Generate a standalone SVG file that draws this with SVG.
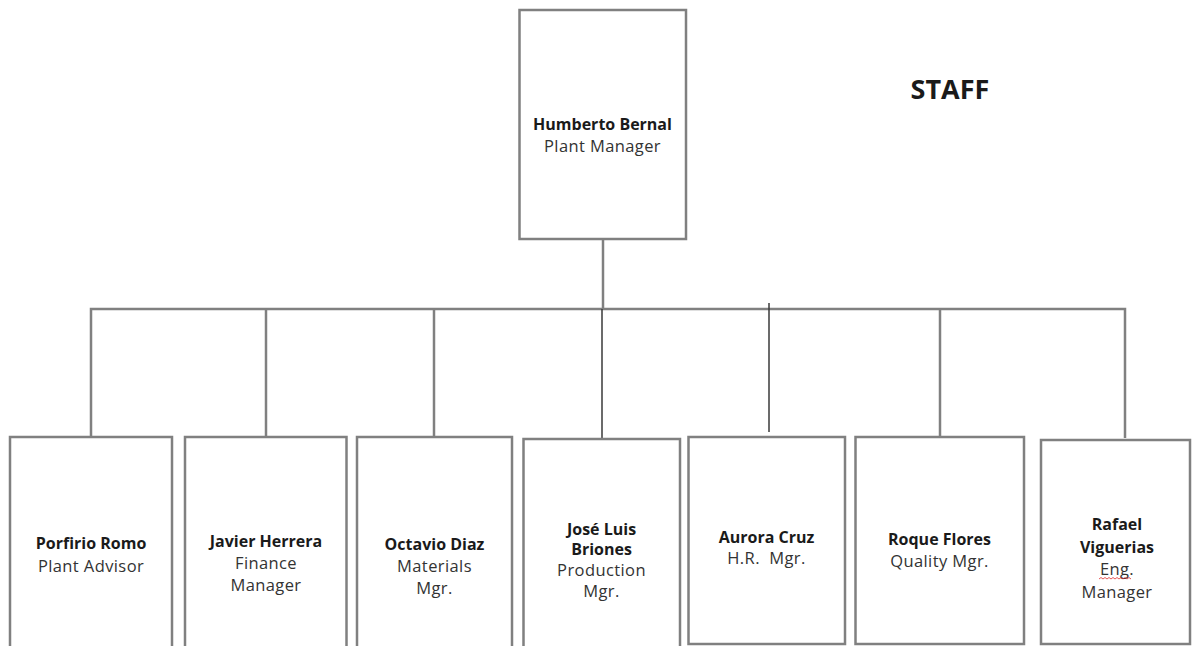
<svg xmlns="http://www.w3.org/2000/svg" width="1192" height="646" viewBox="0 0 1192 646">
  <style>
    .box { fill: #ffffff; stroke: #808080; stroke-width: 2.5; }
    .conn { fill: none; stroke: #808080; stroke-width: 2.5; }
    .thin { fill: none; stroke: #3a3a3a; stroke-width: 1.5; }
    text { font-family: "Open Sans", "Liberation Sans", sans-serif; text-anchor: middle; }
    .name { font-size: 16px; font-weight: bold; fill: #1a1a1a; }
    .title { font-size: 16.5px; letter-spacing: 0.4px; fill: #333333; }
    .staff { font-size: 27px; font-weight: bold; fill: #1a1a1a; }
  </style>
  <rect width="1192" height="646" fill="#ffffff"/>
  <g id="connectors">
    <path class="conn" d="M603 240 V309"/>
    <path class="conn" d="M91 437 V309 H1125 V438"/>
    <path class="conn" d="M266 437 V309"/>
    <path class="conn" d="M434 437 V309"/>
    <path class="conn" d="M940 437 V309"/>
    <path class="thin" d="M602 309 V438"/>
    <path class="thin" d="M769 303 V432"/>
  </g>
  <g id="humberto">
    <rect class="box" x="519.5" y="10" width="166.5" height="229"/>
    <text class="name" x="602.5" y="130">Humberto Bernal</text>
    <text class="title" x="602.5" y="152">Plant Manager</text>
  </g>
  <g id="staff-label">
    <text class="staff" x="950" y="99">STAFF</text>
  </g>
  <g id="porfirio">
    <rect class="box" x="10" y="437" width="162" height="220"/>
    <text class="name" x="91" y="549">Porfirio Romo</text>
    <text class="title" x="91" y="572">Plant Advisor</text>
  </g>
  <g id="javier">
    <rect class="box" x="185" y="437" width="161.5" height="220"/>
    <text class="name" x="266" y="547">Javier Herrera</text>
    <text class="title" x="266" y="569">Finance</text>
    <text class="title" x="266" y="591">Manager</text>
  </g>
  <g id="octavio">
    <rect class="box" x="357" y="437" width="155" height="220"/>
    <text class="name" x="434.5" y="550">Octavio Diaz</text>
    <text class="title" x="434.5" y="572">Materials</text>
    <text class="title" x="434.5" y="594">Mgr.</text>
  </g>
  <g id="jose">
    <rect class="box" x="523.5" y="439" width="156.5" height="220"/>
    <text class="name" x="601.5" y="535">José Luis</text>
    <text class="name" x="601.5" y="555">Briones</text>
    <text class="title" x="601.5" y="576">Production</text>
    <text class="title" x="601.5" y="597">Mgr.</text>
  </g>
  <g id="aurora">
    <rect class="box" x="688.5" y="437" width="156.5" height="207"/>
    <text class="name" x="766.5" y="543">Aurora Cruz</text>
    <text class="title" x="766.5" y="564" xml:space="preserve">H.R.  Mgr.</text>
  </g>
  <g id="roque">
    <rect class="box" x="855.5" y="437" width="168.5" height="207"/>
    <text class="name" x="939.5" y="545">Roque Flores</text>
    <text class="title" x="939.5" y="567">Quality Mgr.</text>
  </g>
  <g id="rafael">
    <rect class="box" x="1041" y="440" width="149" height="204"/>
    <text class="name" x="1117" y="530">Rafael</text>
    <text class="name" x="1117" y="553">Viguerias</text>
    <text class="title" x="1117" y="575">Eng.</text>
    <path d="M1099 579 l2 -1.5 l2 1.5 l2 -1.5 l2 1.5 l2 -1.5 l2 1.5 l2 -1.5 l2 1.5 l2 -1.5 l2 1.5 l2 -1.5 l2 1.5 l2 -1.5 l2 1.5 l2 -1.5 l2 1.5" fill="none" stroke="#e03030" stroke-width="0.8"/>
    <text class="title" x="1117" y="598">Manager</text>
  </g>
</svg>
